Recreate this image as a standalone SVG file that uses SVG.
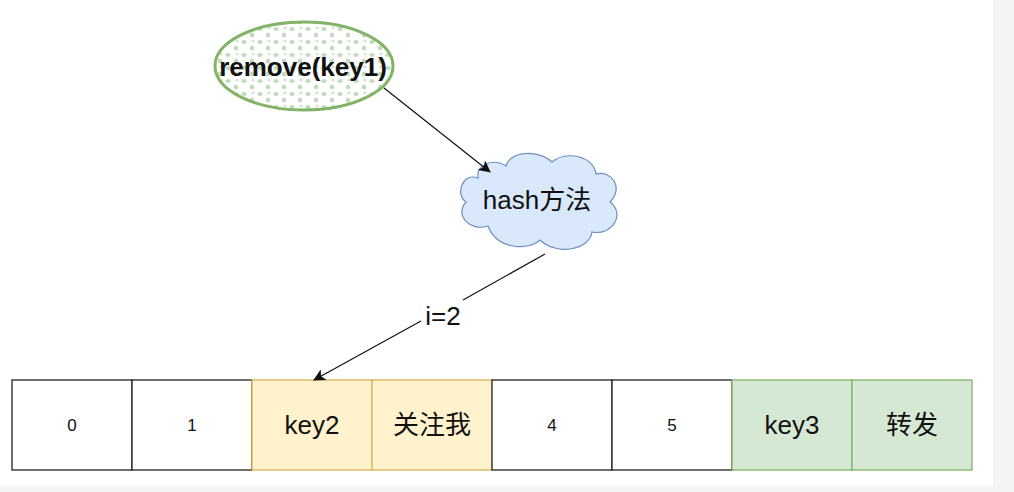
<svg xmlns="http://www.w3.org/2000/svg" width="1014" height="492" viewBox="0 0 1014 492">
<defs>
<style>
.cell{stroke:#222;stroke-width:1.3;fill:#fff}
.y{fill:#fff2cc;stroke:#d6b656}
.g{fill:#d5e8d4;stroke:#82b366}
.t{font-family:"Liberation Sans",Arial,"Noto Sans CJK SC",sans-serif;fill:#111;text-anchor:middle;dominant-baseline:central}
.edge{stroke:#111;stroke-width:1.2;fill:none}
</style>
<pattern id="dots" width="16" height="13" patternUnits="userSpaceOnUse">
<ellipse cx="4" cy="3" rx="2.6" ry="2" fill="#a9cfa4" opacity="0.75"/>
<ellipse cx="12" cy="9" rx="2.2" ry="2.6" fill="#a9cfa4" opacity="0.75"/>
<ellipse cx="13" cy="2" rx="1.5" ry="1.3" fill="#a9cfa4" opacity="0.6"/>
</pattern>
<marker id="arr" markerWidth="12" markerHeight="12" refX="11" refY="6" orient="auto" markerUnits="userSpaceOnUse">
<path d="M0,0 L12,6 L0,12 L3,6 Z" fill="#111"/>
</marker>
</defs>
<rect width="1014" height="492" fill="#f4f4f4"/>
<rect width="993" height="486" fill="#fff"/>
<g id="remove">
<ellipse cx="304" cy="66" rx="89" ry="44" fill="#fff" stroke="none"/>
<ellipse cx="304" cy="66" rx="89" ry="44" fill="url(#dots)" stroke="#82b366" stroke-width="3"/>
<text class="t" x="303" y="67" font-size="26" font-weight="bold">remove(key1)</text>
</g>
<g id="hash">
<path d="M478,178 C462,172 455,195 466,202 C454,215 470,232 488,226 C496,248 526,252 540,240 C556,256 590,250 592,232 C612,236 626,214 610,202 C624,188 612,170 596,174 C594,156 566,150 552,162 C540,150 510,150 506,166 C494,158 476,164 478,178 Z" fill="#dae8fc" stroke="#6c8ebf" stroke-width="1.2"/>
<text class="t" x="537" y="200" font-size="26">hash方法</text>
</g>
<g id="c0"><rect class="cell" x="12" y="380" width="120" height="90"/><text class="t" x="72" y="425" font-size="17">0</text></g>
<g id="c1"><rect class="cell" x="132" y="380" width="120" height="90"/><text class="t" x="192" y="425" font-size="17">1</text></g>
<g id="c2"><rect class="cell y" x="252" y="380" width="120" height="90"/><text class="t" x="312" y="425" font-size="26">key2</text></g>
<g id="c3"><rect class="cell y" x="372" y="380" width="120" height="90"/><text class="t" x="432" y="425" font-size="26">关注我</text></g>
<g id="c4"><rect class="cell" x="492" y="380" width="120" height="90"/><text class="t" x="552" y="425" font-size="17">4</text></g>
<g id="c5"><rect class="cell" x="612" y="380" width="120" height="90"/><text class="t" x="672" y="425" font-size="17">5</text></g>
<g id="c6"><rect class="cell g" x="732" y="380" width="120" height="90"/><text class="t" x="792" y="425" font-size="26">key3</text></g>
<g id="c7"><rect class="cell g" x="852" y="380" width="120" height="90"/><text class="t" x="912" y="425" font-size="26">转发</text></g>
<g id="connectors">
<line class="edge" x1="384" y1="88" x2="490" y2="172" marker-end="url(#arr)"/>
<path class="edge" d="M545,254 L463,300 M421,321 L314,380" marker-end="url(#arr)"/>
<text class="t" x="443" y="316" font-size="26">i=2</text>
</g>
</svg>
